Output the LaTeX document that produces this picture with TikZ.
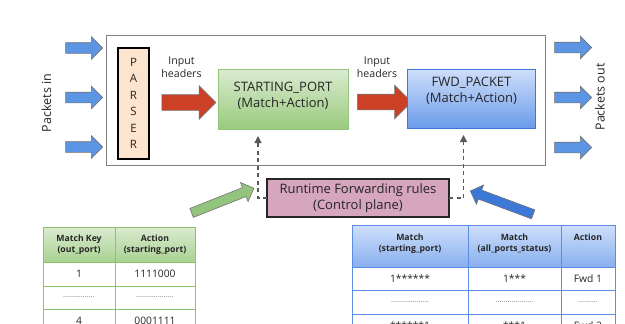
\documentclass[tikz,border=0pt]{standalone}
\usepackage{fontspec}
\setmainfont{Open Sans}
\usetikzlibrary{shapes.arrows,arrows.meta}

\definecolor{arrowblue}{HTML}{5B95E3}
\definecolor{arrowred}{HTML}{CC4125}
\definecolor{parserfill}{HTML}{FCE4CE}
\definecolor{gtop}{HTML}{DAEBD0}
\definecolor{gbot}{HTML}{9ACA7E}
\definecolor{gline}{HTML}{93C47D}
\definecolor{btop}{HTML}{CFDFFA}
\definecolor{bbot}{HTML}{6A9BEA}
\definecolor{bline}{HTML}{3C78D8}
\definecolor{rtfill}{HTML}{D5A6BD}
\definecolor{tgline}{HTML}{8CC46E}
\definecolor{tbline}{HTML}{5B8FE6}

\begin{document}
\begin{tikzpicture}[x=1pt,y=-1pt,
  every node/.style={inner sep=0pt, outer sep=0pt},
  flowin/.style={single arrow, draw=black!55, fill=arrowblue, line width=0.6pt,
    inner ysep=5pt, inner xsep=0pt, minimum height=37pt, minimum width=0pt,
    single arrow head extend=6pt, single arrow tip angle=90},
  hdrflow/.style={single arrow, draw=black!55, fill=arrowred, line width=0.6pt,
    inner ysep=7.5pt, inner xsep=0pt, minimum height=54pt, minimum width=0pt,
    single arrow head extend=9pt, single arrow tip angle=90},
  rulearrow/.style={single arrow, draw=black!55, line width=0.6pt,
    inner ysep=4.5pt, inner xsep=0pt, minimum height=67pt, minimum width=0pt,
    single arrow head extend=5.5pt, single arrow tip angle=90},
  label/.style={align=center, font=\fontsize{10.6}{13}\selectfont, text=black!85},
  side/.style={rotate=90, font=\fontsize{12.5}{14}\selectfont, text=black!85},
  mabox/.style={anchor=north west, align=center, line width=1pt,
    font=\fontsize{13}{15.5}\selectfont, text=black!85},
  matext/.style={align=center, font=\fontsize{13}{16.5}\selectfont, text=black!85},
  ctl/.style={dash pattern=on 4pt off 3.5pt, line width=1.2pt, draw=black!65,
    -{Triangle[length=7pt,width=7pt]}, shorten >=7pt},
  cellg/.style={draw=tgline, line width=1pt, anchor=north west},
  cellb/.style={draw=tbline, line width=1pt, anchor=north west},
  txt/.style={align=center, font=\fontsize{10.3}{12}\selectfont, text=black!85},
  hdr/.style={align=center, font=\bfseries\fontsize{8.7}{11.5}\selectfont, text=black!85},
  dots/.style={font=\fontsize{7.5}{8}\selectfont, text=black!55}
]
\useasboundingbox (0,0) rectangle (625,324);
\clip (0,0) rectangle (625,324);

% switch frame
\node[draw=black!50, line width=1pt, anchor=north west,
  minimum width=439pt, minimum height=130pt] (sw) at (106,35) {};

% packets entering and leaving
\node[side] (pin) at (46.5,103) {Packets in};
\node[flowin] (in1) at (81.5,48) {};
\node[flowin] (in2) at (81.5,97.5) {};
\node[flowin] (in3) at (81.5,147) {};
\node[flowin] (out1) at (570.5,47.5) {};
\node[flowin] (out2) at (570.5,97.5) {};
\node[flowin] (out3) at (570.5,147.5) {};
\node[side] (pout) at (600,97) {Packets out};

% parser
\node[draw=black, fill=parserfill, line width=1.3pt, anchor=north west,
  minimum width=31pt, minimum height=111pt, align=center,
  font=\fontsize{11.5}{16.5}\selectfont, text=black!85] (ps) at (118,48)
  {P\\A\\R\\S\\E\\R};

% header flow
\node[label] (ih1) at (181.5,67) {Input\\headers};
\node[hdrflow] (hf1) at (185,102.5) {};
\node[label] (ih2) at (377,67) {Input\\headers};
\node[hdrflow] (hf2) at (380.5,102) {};

% match+action stages
\node[mabox, draw=gline, top color=gtop, bottom color=gbot,
  minimum width=130pt, minimum height=60pt] (sp) at (218,69) {};
\node[matext] (spt) at (283,96) {STARTING\_PORT\\(Match+Action)};
\node[mabox, draw=bline, top color=btop, bottom color=bbot,
  minimum width=128pt, minimum height=59pt] (fw) at (407,69) {};
\node[matext] (fwt) at (471.5,91) {FWD\_PACKET\\(Match+Action)};

% control plane
\node[mabox, draw=black!85, fill=rtfill, line width=1.2pt,
  minimum width=182pt, minimum height=38pt] (rt) at (267,179)
  {Runtime Forwarding rules\\(Control plane)};
\draw[ctl] (rt.west) -| ([xshift=-25pt]sp.south);
\draw[ctl] (rt.east) -| ([xshift=-7.5pt]fw.south);

% rule arrows feeding the control plane
\node[rulearrow, fill=gline, rotate=21.6] (ga) at (220.5,201.5) {};
\node[rulearrow, fill=bline, rotate=159.6] (ba) at (504,203.5) {};

% STARTING_PORT table
\node[cellg, top color=gtop, bottom color=gbot!85,
  minimum width=72pt, minimum height=35pt] (l11) at (43,227) {};
\node[cellg, top color=gtop, bottom color=gbot!85,
  minimum width=80pt, minimum height=35pt] (l12) at (115,227) {};
\node[cellg, minimum width=72pt, minimum height=24pt] (l21) at (43,262) {};
\node[cellg, minimum width=80pt, minimum height=24pt] (l22) at (115,262) {};
\node[cellg, minimum width=72pt, minimum height=23pt] (l31) at (43,286) {};
\node[cellg, minimum width=80pt, minimum height=23pt] (l32) at (115,286) {};
\node[cellg, minimum width=72pt, minimum height=24pt] (l41) at (43,309) {};
\node[cellg, minimum width=80pt, minimum height=24pt] (l42) at (115,309) {};
\node[hdr] (t11) at (l11) {Match Key\\(out\_port)};
\node[hdr] (t12) at (l12) {Action\\(starting\_port)};
\node[txt] (t21) at (l21) {1};
\node[txt] (t22) at (l22) {1111000};
\node[dots] (t31) at (l31) {................};
\node[dots] (t32) at (l32) {...................};
\node[txt] (t41) at (l41) {4};
\node[txt] (t42) at (l42) {0001111};

% FWD_PACKET table
\node[cellb, top color=btop, bottom color=bbot!80,
  minimum width=116pt, minimum height=42pt] (r11) at (352,225) {};
\node[cellb, top color=btop, bottom color=bbot!80,
  minimum width=93pt, minimum height=42pt] (r12) at (468,225) {};
\node[cellb, top color=btop, bottom color=bbot!80,
  minimum width=54pt, minimum height=42pt] (r13) at (561,225) {};
\node[cellb, minimum width=116pt, minimum height=23pt] (r21) at (352,267) {};
\node[cellb, minimum width=93pt, minimum height=23pt] (r22) at (468,267) {};
\node[cellb, minimum width=54pt, minimum height=23pt] (r23) at (561,267) {};
\node[cellb, minimum width=116pt, minimum height=24pt] (r31) at (352,290) {};
\node[cellb, minimum width=93pt, minimum height=24pt] (r32) at (468,290) {};
\node[cellb, minimum width=54pt, minimum height=24pt] (r33) at (561,290) {};
\node[cellb, minimum width=116pt, minimum height=24pt] (r41) at (352,314) {};
\node[cellb, minimum width=93pt, minimum height=24pt] (r42) at (468,314) {};
\node[cellb, minimum width=54pt, minimum height=24pt] (r43) at (561,314) {};
\node[hdr] (u11) at (410,243.5) {Match\\(starting\_port)};
\node[hdr] (u12) at (514.5,243.5) {Match\\(all\_ports\_status)};
\node[hdr] (u13) at (588,237) {Action};
\node[txt] (u21) at (r21) {1******};
\node[txt] (u22) at (r22) {1***};
\node[txt] (u23) at (r23) {Fwd 1};
\node[dots] (u31) at (r31) {...................};
\node[dots] (u32) at (r32) {...................};
\node[dots] (u33) at (r33) {..........};
\node[txt] (u41) at (r41) {******1};
\node[txt] (u42) at (r42) {***1};
\node[txt] (u43) at (r43) {Fwd 2};
\end{tikzpicture}
\end{document}
